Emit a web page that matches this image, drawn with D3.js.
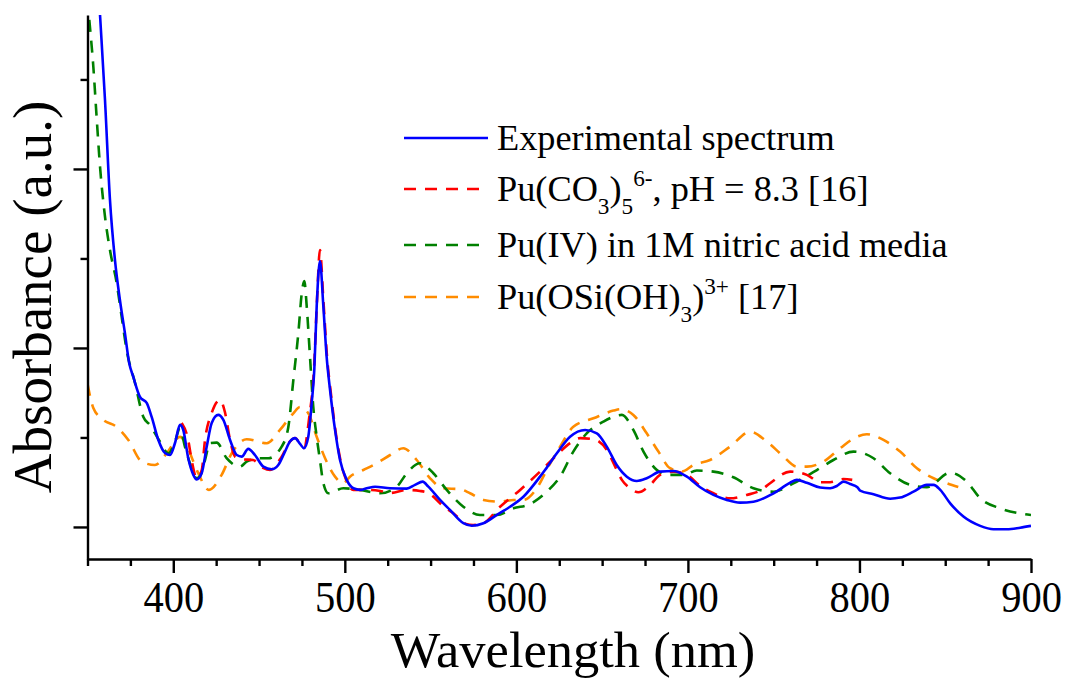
<!DOCTYPE html>
<html>
<head>
<meta charset="utf-8">
<script src="https://cdn.jsdelivr.net/npm/d3@7"></script>
<style>
  html, body { margin: 0; padding: 0; background: #fff; }
  svg { display: block; }
  text { font-family: "Liberation Serif", "Times New Roman", serif; fill: #000; }
</style>
</head>
<body>
<svg id="chart" width="1066" height="679"></svg>
<script>
// Absorbance spectra, arbitrary units: [wavelength nm, absorbance]
const experimental = [
  [355.5, 3.15], [357.3, 2.86], [360.2, 2.385], [363.1, 1.827], [366.0, 1.492], [368.9, 1.268],
  [371.8, 1.084], [374.3, 0.916], [376.7, 0.838], [380.6, 0.726], [384.5, 0.693], [387.4, 0.615],
  [391.3, 0.486], [395.2, 0.413], [398.1, 0.402], [401.0, 0.469], [403.9, 0.570], [405.8, 0.542],
  [408.7, 0.385], [411.7, 0.291], [413.6, 0.266], [416.6, 0.302], [419.5, 0.449], [422.4, 0.581],
  [426.2, 0.626], [429.2, 0.598], [433.1, 0.486], [437.0, 0.402], [439.9, 0.393], [443.7, 0.436],
  [447.6, 0.402], [452.5, 0.337], [457.4, 0.322], [461.2, 0.346], [465.1, 0.421], [468.0, 0.477],
  [471.0, 0.496], [473.9, 0.464], [476.2, 0.440], [478.7, 0.504], [480.7, 0.693], [482.2, 0.877],
  [483.6, 1.231], [485.5, 1.486], [487.5, 1.231], [489.4, 0.951], [491.4, 0.765], [494.3, 0.542],
  [497.2, 0.374], [501.1, 0.263], [505.0, 0.216], [508.9, 0.207], [512.8, 0.216], [517.6, 0.225],
  [526.4, 0.216], [536.1, 0.214], [540.9, 0.235], [545.4, 0.253], [548.7, 0.225], [555.5, 0.151],
  [561.3, 0.095], [569.1, 0.021], [574.0, 0.007], [580.8, 0.021], [588.6, 0.067], [596.3, 0.113],
  [604.1, 0.169], [613.8, 0.281], [616.7, 0.318], [623.6, 0.412], [631.3, 0.504], [640.1, 0.542],
  [646.9, 0.523], [652.7, 0.449], [658.5, 0.346], [664.4, 0.281], [670.2, 0.257], [676.0, 0.272],
  [683.8, 0.309], [691.5, 0.313], [699.4, 0.281], [707.1, 0.222], [714.9, 0.179], [722.7, 0.151],
  [730.4, 0.136], [738.2, 0.141], [749.9, 0.188], [759.6, 0.247], [763.5, 0.263], [769.3, 0.247],
  [777.1, 0.220], [782.9, 0.216], [786.8, 0.229], [790.7, 0.253], [794.6, 0.240], [798.8, 0.222],
  [800.4, 0.203], [808.2, 0.183], [817.9, 0.158], [823.7, 0.164], [831.5, 0.197], [839.3, 0.235],
  [843.2, 0.235], [847.1, 0.207], [852.9, 0.132], [860.6, 0.058], [870.4, 0.006], [878.1, -0.013],
  [886.0, -0.013], [893.7, -0.004], [900.0, 0.006]
];

const carbonate = [
  [404.9, 0.581], [408.7, 0.486], [410.7, 0.374], [413.6, 0.274], [416.6, 0.318], [418.5, 0.486],
  [422.4, 0.637], [427.2, 0.709], [430.1, 0.642], [433.1, 0.486], [436.0, 0.393], [440.6, 0.378],
  [446.5, 0.374], [452.3, 0.330], [456.4, 0.318], [463.2, 0.393], [468.0, 0.477], [471.0, 0.497],
  [473.9, 0.464], [476.2, 0.441], [479.3, 0.616], [482.0, 0.877], [483.8, 1.268], [485.5, 1.547],
  [487.5, 1.268], [489.6, 0.955], [492.0, 0.737], [494.9, 0.514], [497.8, 0.358], [501.3, 0.251],
  [505.0, 0.207], [512.8, 0.207], [520.5, 0.201], [526.4, 0.190], [536.1, 0.207], [543.8, 0.201],
  [548.5, 0.190], [557.3, 0.117], [563.1, 0.078], [570.7, 0.017], [574.8, 0.011], [580.8, 0.021],
  [590.5, 0.113], [602.2, 0.207], [613.8, 0.309], [623.6, 0.402], [631.3, 0.468], [637.2, 0.496],
  [644.9, 0.490], [652.7, 0.430], [657.6, 0.337], [661.5, 0.263], [666.4, 0.216], [671.1, 0.194],
  [678.0, 0.235], [683.8, 0.291], [691.5, 0.309], [699.4, 0.291], [707.1, 0.229], [714.9, 0.188],
  [724.6, 0.160], [734.3, 0.179], [742.1, 0.203], [747.9, 0.244], [759.6, 0.309], [769.3, 0.291],
  [777.1, 0.250], [782.9, 0.250], [790.7, 0.268], [795.8, 0.263]
];

const nitric = [
  [350.0, 2.95], [350.8, 2.86], [353.4, 2.571], [355.3, 2.292], [357.3, 2.013], [360.2, 1.734],
  [363.1, 1.547], [367.0, 1.363], [369.9, 1.175], [372.8, 0.989], [377.7, 0.804], [382.5, 0.616],
  [386.4, 0.570], [392.2, 0.477], [397.1, 0.412], [401.0, 0.477], [403.9, 0.551], [406.8, 0.449],
  [409.7, 0.356], [413.6, 0.272], [415.6, 0.285], [418.5, 0.374], [421.4, 0.469], [425.3, 0.471],
  [431.1, 0.384], [438.9, 0.337], [442.8, 0.365], [450.6, 0.384], [455.4, 0.384], [463.2, 0.449],
  [467.1, 0.560], [470.0, 0.821], [472.9, 1.082], [474.9, 1.306], [476.4, 1.374], [477.8, 1.231],
  [479.7, 0.951], [481.6, 0.672], [483.6, 0.504], [485.5, 0.374], [487.5, 0.244], [490.4, 0.188],
  [499.1, 0.216], [508.9, 0.207], [520.5, 0.188], [530.3, 0.225], [536.1, 0.300], [543.8, 0.356],
  [551.6, 0.300], [559.4, 0.207], [569.1, 0.113], [578.8, 0.067], [588.6, 0.067], [598.3, 0.104],
  [608.0, 0.128], [617.7, 0.197], [625.5, 0.281], [633.2, 0.421], [641.0, 0.523], [650.7, 0.588],
  [661.5, 0.626], [668.2, 0.542], [674.1, 0.421], [681.9, 0.318], [687.7, 0.291], [697.4, 0.291],
  [705.2, 0.315], [714.9, 0.309], [726.5, 0.278], [738.2, 0.216], [749.9, 0.197], [761.5, 0.244],
  [775.2, 0.318], [784.8, 0.374], [796.5, 0.421], [808.2, 0.384], [817.9, 0.300], [829.5, 0.235],
  [839.3, 0.222], [852.9, 0.303], [862.6, 0.253], [870.4, 0.160], [882.0, 0.104], [895.6, 0.073],
  [900.0, 0.067]
];

const silicate = [
  [350.0, 0.80], [353.4, 0.665], [359.2, 0.598], [367.0, 0.559], [373.8, 0.486], [381.6, 0.365],
  [389.3, 0.346], [396.2, 0.412], [403.9, 0.503], [407.8, 0.458], [411.7, 0.365], [414.6, 0.300],
  [420.8, 0.207], [428.2, 0.291], [434.1, 0.412], [442.8, 0.490], [454.5, 0.468], [462.2, 0.542],
  [470.0, 0.635], [473.9, 0.670], [478.7, 0.635], [483.6, 0.504], [488.5, 0.384], [494.3, 0.281],
  [499.1, 0.244], [503.0, 0.281], [510.8, 0.318], [518.6, 0.356], [526.4, 0.402], [534.1, 0.440],
  [541.9, 0.374], [549.7, 0.272], [557.4, 0.216], [567.2, 0.211], [573.0, 0.188], [580.8, 0.151],
  [590.5, 0.141], [598.3, 0.151], [604.1, 0.151], [611.9, 0.216], [618.7, 0.337], [625.5, 0.449],
  [633.2, 0.560], [644.9, 0.607], [656.6, 0.650], [660.5, 0.658], [668.2, 0.626], [676.0, 0.523],
  [682.8, 0.421], [689.6, 0.328], [696.4, 0.309], [703.2, 0.346], [712.9, 0.374], [724.6, 0.449],
  [736.2, 0.532], [746.0, 0.477], [754.8, 0.402], [763.5, 0.337], [769.3, 0.337], [779.0, 0.365],
  [788.8, 0.440], [798.5, 0.504], [804.3, 0.518], [814.0, 0.486], [823.7, 0.421], [833.5, 0.328],
  [843.2, 0.272], [851.0, 0.244], [857.6, 0.223]
];

const xMajorTicks = [400, 500, 600, 700, 800, 900];
const xMinorTicks = [350, 375, 425, 450, 475, 525, 550, 575, 625, 650, 675, 725, 750, 775, 825, 850, 875];
const yMajorTicks = [0, 1, 2];
const yMinorTicks = [0.5, 1.5, 2.5];

const seriesColors = ["#0000ff", "#ff0000", "#008000", "#ff8c00"];

// ---------------------------------------------------------------
const svg = d3.select("#chart");
const plotLeft = 87.5, plotRight = 1031, plotTop = 15, plotBottom = 559;

const x = d3.scaleLinear().domain([350, 900]).range([plotLeft, plotRight]);
const y = d3.scaleLinear().domain([-0.179, 2.86]).range([plotBottom, plotTop]);

svg.append("defs").append("clipPath").attr("id", "plot-clip")
  .append("rect")
  .attr("x", plotLeft).attr("y", plotTop)
  .attr("width", plotRight - plotLeft).attr("height", plotBottom - plotTop);

const line = d3.line()
  .x(d => x(d[0]))
  .y(d => y(d[1]))
  .curve(d3.curveMonotoneX);

const dash = "12,9";
const traces = [
  { data: silicate, color: seriesColors[3], dash: dash },
  { data: nitric, color: seriesColors[2], dash: dash },
  { data: carbonate, color: seriesColors[1], dash: dash },
  { data: experimental, color: seriesColors[0], dash: null }
];

const plot = svg.append("g").attr("clip-path", "url(#plot-clip)");
traces.forEach(t => {
  plot.append("path")
    .datum(t.data)
    .attr("d", line)
    .attr("fill", "none")
    .attr("stroke", t.color)
    .attr("stroke-width", 2.6)
    .attr("stroke-dasharray", t.dash)
    .attr("stroke-linejoin", "round");
});

// Axes
function styleAxis(g) {
  g.selectAll("path, line").attr("stroke", "#000").attr("stroke-width", 2.4);
}

const xMajor = svg.append("g")
  .attr("transform", `translate(0,${plotBottom})`)
  .call(d3.axisBottom(x).tickValues(xMajorTicks).tickSize(14).tickSizeOuter(0)
        .tickFormat(d3.format("d")));
xMajor.call(styleAxis);
xMajor.selectAll("text")
  .attr("font-size", 45)
  .attr("font-family", "Liberation Serif")
  .attr("dy", null)
  .attr("y", 53)
  .attr("transform", "scale(0.9,1)")
  .attr("fill", "#000");

const xMinor = svg.append("g")
  .attr("transform", `translate(0,${plotBottom})`)
  .call(d3.axisBottom(x).tickValues(xMinorTicks).tickSize(7).tickSizeOuter(0).tickFormat(""));
xMinor.select(".domain").remove();
xMinor.call(styleAxis);

const yMajor = svg.append("g")
  .attr("transform", `translate(${plotLeft},0)`)
  .call(d3.axisLeft(y).tickValues(yMajorTicks).tickSize(14).tickSizeOuter(0).tickFormat(""));
yMajor.call(styleAxis);

const yMinor = svg.append("g")
  .attr("transform", `translate(${plotLeft},0)`)
  .call(d3.axisLeft(y).tickValues(yMinorTicks).tickSize(7).tickSizeOuter(0).tickFormat(""));
yMinor.select(".domain").remove();
yMinor.call(styleAxis);

// Axis titles
svg.append("text")
  .attr("transform", "translate(51,297) rotate(-90)")
  .attr("text-anchor", "middle")
  .attr("font-size", 55)
  .text("Absorbance (a.u.)");

svg.append("text")
  .attr("x", 573).attr("y", 667)
  .attr("text-anchor", "middle")
  .attr("font-size", 50)
  .attr("transform", "translate(573,0) scale(1.05,1) translate(-573,0)")
  .text("Wavelength (nm)");

// Legend
const legendLabels = [
  [{ t: "Experimental spectrum" }],
  [{ t: "Pu(CO" }, { t: "3", m: "sub" }, { t: ")" }, { t: "5", m: "sub" }, { t: "6-", m: "sup" },
   { t: ", pH = 8.3 [16]" }],
  [{ t: "Pu(IV) in 1M nitric acid media" }],
  [{ t: "Pu(OSi(OH)" }, { t: "3", m: "sub" }, { t: ")" }, { t: "3+", m: "sup" }, { t: " [17]" }]
];
const legendRows = [138, 189, 245, 297];
const legendFont = 36.3;
const legend = svg.append("g");

legendLabels.forEach((segs, i) => {
  const ly = legendRows[i];
  legend.append("line")
    .attr("x1", 404).attr("x2", 488)
    .attr("y1", ly).attr("y2", ly)
    .attr("stroke", seriesColors[i])
    .attr("stroke-width", 2.4)
    .attr("stroke-dasharray", i === 0 ? null : dash);

  const txt = legend.append("text")
    .attr("x", 497).attr("y", ly + 12)
    .attr("font-size", legendFont);
  let shift = 0;
  segs.forEach(s => {
    const target = s.m === "sub" ? 0.36 * legendFont : s.m === "sup" ? -0.4 * legendFont : 0;
    txt.append("tspan")
      .attr("dy", target - shift)
      .attr("font-size", s.m ? legendFont * 0.64 : legendFont)
      .text(s.t);
    shift = target;
  });
});
</script>
</body>
</html>
